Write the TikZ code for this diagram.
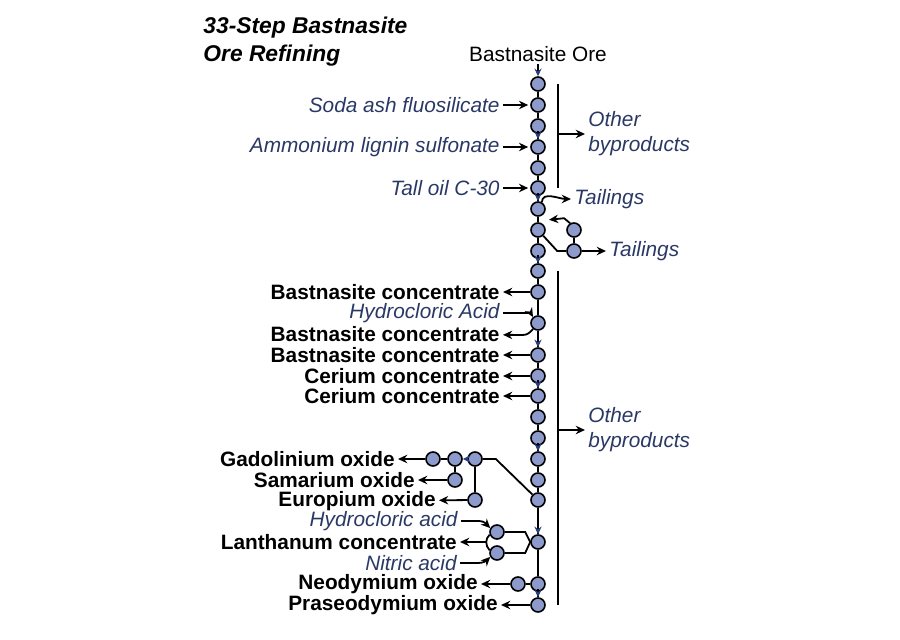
\documentclass[tikz,border=0pt]{standalone}
\usepackage{fontspec}
\setmainfont{Liberation Sans}
\usetikzlibrary{arrows.meta}
\definecolor{stepfill}{RGB}{141,154,204}
\definecolor{labelblue}{RGB}{42,56,102}
\definecolor{tipblue}{RGB}{40,60,120}
\tikzset{
  stepnode/.style={circle,draw=black,fill=stepfill,line width=0.8pt,minimum size=7pt,inner sep=0pt},
  link/.style={line width=0.9pt},
  flow/.style={link,-{Stealth[length=4.6pt,width=4.2pt]}},
  smalltip/.style={link,-{Stealth[length=3.8pt,width=3.6pt,color=tipblue]}},
  feed/.style={font=\fontsize{10.4}{12.5}\selectfont\itshape,text=labelblue,inner xsep=1.5pt,inner ysep=0pt},
  product/.style={font=\fontsize{10.4}{12.5}\selectfont\bfseries,inner xsep=1.5pt,inner ysep=0pt}
}

\begin{document}
\begin{tikzpicture}[x=0.5pt,y=-0.5pt]
\useasboundingbox (0,0) rectangle (900,640);

% title and feed
\node[font=\fontsize{11.4}{14}\selectfont\bfseries\itshape,align=left,anchor=west,inner sep=0pt] (title) at (203,42) {33-Step Bastnasite\\Ore Refining};
\node[font=\fontsize{10.4}{12.5}\selectfont,inner sep=1pt] (ore) at (538,54) {Bastnasite Ore};

% main column of steps
\foreach \y [count=\i] in {84,105,126,147,168,188,209,230,251,271,292,323,355,376,396,417,438,459,480,500,542,584,605}
  \node[stepnode] (m\i) at (538,\y) {};
\foreach \i [remember=\i as \j (initially 1)] in {2,...,23}
  \draw[link] (m\j) -- (m\i);
\foreach \i in {4,7,10,13,15,18,21,23}
  \draw[smalltip] ([yshift=4pt]m\i.north) -- (m\i.north);
\draw[smalltip] (ore) -- (m1);

% side steps
\node[stepnode] (s1) at (574,230) {};
\node[stepnode] (s2) at (574,251) {};
\node[stepnode] (g1) at (433,459) {};
\node[stepnode] (g2) at (455,459) {};
\node[stepnode] (g3) at (475,459) {};
\node[stepnode] (g4) at (455,480) {};
\node[stepnode] (g5) at (475,500) {};
\node[stepnode] (l1) at (497,532) {};
\node[stepnode] (l2) at (497,553) {};
\node[stepnode] (n1) at (518,584) {};

% inputs
\node[feed,anchor=east] (soda) at (503,105) {Soda ash fluosilicate};
\node[feed,anchor=east] (amm) at (503,147) {Ammonium lignin sulfonate};
\node[feed,anchor=east] (tall) at (503,188) {Tall oil C-30};
\node[feed,anchor=east] (hcl1) at (503,313) {Hydrocloric Acid};
\node[feed,anchor=east] (hcl2) at (461,521) {Hydrocloric acid};
\node[feed,anchor=east] (nit) at (460,563) {Nitric acid};

% outputs
\node[feed,anchor=west,align=left] (ob1) at (585,134) {Other\\byproducts};
\node[feed,anchor=west,align=left] (ob2) at (585,430) {Other\\byproducts};
\node[feed,anchor=west] (tail1) at (571,199) {Tailings};
\node[feed,anchor=west] (tail2) at (606,251) {Tailings};
\node[product,anchor=east] (bc1) at (503,292) {Bastnasite concentrate};
\node[product,anchor=east] (bc2) at (503,334) {Bastnasite concentrate};
\node[product,anchor=east] (bc3) at (503,355) {Bastnasite concentrate};
\node[product,anchor=east] (ce1) at (503,376) {Cerium concentrate};
\node[product,anchor=east] (ce2) at (503,396) {Cerium concentrate};
\node[product,anchor=east] (gad) at (398,459) {Gadolinium oxide};
\node[product,anchor=east] (sam) at (418,480) {Samarium oxide};
\node[product,anchor=east] (euro) at (439,501) {Europium oxide};
\node[product,anchor=east] (lan) at (460,542) {Lanthanum concentrate};
\node[product,anchor=east] (neo) at (481,584) {Neodymium oxide};
\node[product,anchor=east] (pra) at (501,605) {Praseodymium oxide};

% feeds into the column
\draw[flow,shorten >=1pt] (soda) -- (m2);
\draw[flow,shorten >=1pt] (amm) -- (m4);
\draw[flow,shorten >=1pt] (tall) -- (m6);
\draw[flow] (hcl1.east) -- ++(20,0) to[out=0,in=120] (m12.130);

% tailings loop
\draw[flow] (m7.60) to[out=90,in=180] (tail1.west);
\draw[flow] (s1.120) -- ++(-6,-5) -- ([xshift=5.5pt,yshift=-1.5pt]m7.south);
\draw[link] (m8) -- ([xshift=-4.5pt]s2.west) -- (s2);
\draw[link] (s1) -- (s2);
\draw[flow] (s2) -- (tail2);

% concentrates
\draw[flow] (m11) -- (bc1);
\draw[flow] (m12.230) to[out=230,in=0] ++(-10,6) -- (bc2);
\draw[flow] (m13) -- (bc3);
\draw[flow] (m14) -- (ce1);
\draw[flow] (m15) -- (ce2);

% oxides
\draw[link] (m20) -- ([xshift=6.5pt]g3.east) -- (g3);
\draw[smalltip] (g3) -- (g2);
\draw[link] (g2) -- (g1);
\draw[flow] (g1) -- (gad);
\draw[link] (g2) -- (g4);
\draw[flow] (g4) -- (sam);
\draw[link] (g3) -- (g5);
\draw[flow] (g5) -- (euro);

% lanthanum
\draw[link] (l1) -- ([xshift=-2.5pt]l1 -| m21.west) -- (m21.west);
\draw[link] (l2) -- ([xshift=-2.5pt]l2 -| m21.west) -- (m21.west);
\draw[flow] (hcl2.east) -- ++(18,0) to[out=0,in=135] (l1.150);
\draw[flow] (nit.east) -- ++(18,0) to[out=0,in=-135] (l2.210);
\coordinate (lj) at ([xshift=-1.5pt]l1.west |- lan.east);
\draw[link] (l1.200) to[out=230,in=90] (lj);
\draw[link] (l2.160) to[out=130,in=-90] (lj);
\draw[flow] (lj) -- (lan);

\draw[link] (m22) -- (n1);
\draw[flow] (n1) -- (neo);
\draw[flow] (m23) -- (pra);

% byproduct brackets
\draw[link] ([xshift=6pt]m1.east) -- ([xshift=6pt]m6.east);
\draw[flow] ([xshift=6pt]m1.east |- ob1.west) -- (ob1.west);
\draw[link] ([xshift=6pt]m10.east) -- ([xshift=6pt]m23.east);
\draw[flow] ([xshift=6pt]m10.east |- ob2.west) -- (ob2.west);
\end{tikzpicture}
\end{document}
